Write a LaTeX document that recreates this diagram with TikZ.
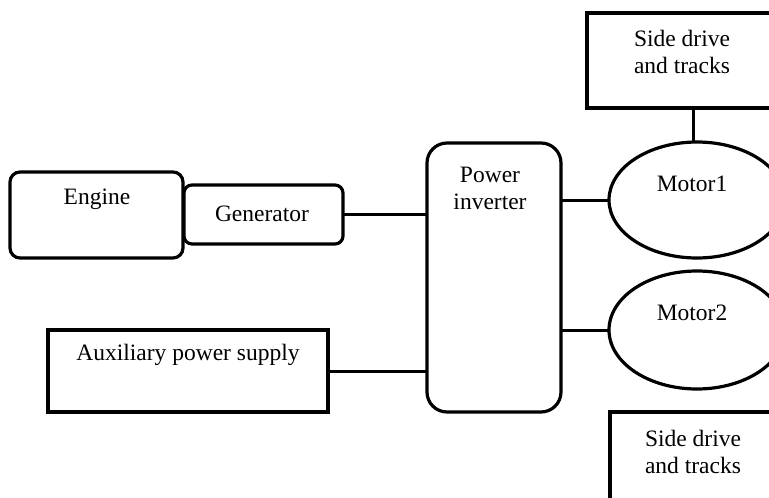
\documentclass[tikz,border=0pt]{standalone}
\usepackage{fontspec}
\setmainfont{Liberation Serif}
\usetikzlibrary{shapes.geometric}
\begin{document}
\begin{tikzpicture}[x=1pt,y=-1pt,
  box/.style={draw,line width=3.2pt,inner sep=0pt,outer sep=0pt},
  oval/.style={box,ellipse},
  txt/.style={font=\fontsize{23.5}{27}\selectfont,align=center,inner sep=0pt},
  conn/.style={line width=3pt}]
\useasboundingbox (0,0) rectangle (769,498);
\fill[white] (0,0) rectangle (769,498);
\clip (0,0) rectangle (769,498);
% shapes
\node[box,rounded corners=10pt,minimum width=173pt,minimum height=86pt] (eng) at (96.5,215) {};
\node[box,rounded corners=8pt,minimum width=159pt,minimum height=59pt] (gen) at (263.5,214.5) {};
\node[box,rounded corners=20pt,minimum width=134pt,minimum height=269pt] (inv) at (494,277.5) {};
\node[box,minimum width=280pt,minimum height=82pt] (aux) at (188,371) {};
\node[box,minimum width=213pt,minimum height=95pt] (sd1) at (693.5,60.5) {};
\node[oval,minimum width=176pt,minimum height=116pt] (m1) at (697,200) {};
\node[oval,minimum width=176pt,minimum height=118pt] (m2) at (697,330) {};
\node[box,minimum width=210pt,minimum height=118pt] (sd2) at (715,471) {};
% texts
\node[txt] (tEng) at (97,199) {Engine};
\node[txt] (tGen) at (262,214) {Generator};
\node[txt] (tInv) at (490,188) {Power\\inverter};
\node[txt] (tAux) at (188,355) {Auxiliary power supply};
\node[txt] (tSd1) at (682,52) {Side drive\\and tracks};
\node[txt] (tM1) at (692,184) {Motor1};
\node[txt] (tM2) at (692,313) {Motor2};
\node[txt] (tSd2) at (693,452) {Side drive\\and tracks};
% connectors
\draw[conn] (gen.east) -- (gen.east -| inv.west);
\draw[conn] (inv.east |- m1.west) -- (m1.west);
\draw[conn] (inv.east |- m2.west) -- (m2.west);
\draw[conn] (aux.east) -- (aux.east -| inv.west);
\draw[conn] (sd1.south) -- (sd1.south |- m1.north);
\end{tikzpicture}
\end{document}
